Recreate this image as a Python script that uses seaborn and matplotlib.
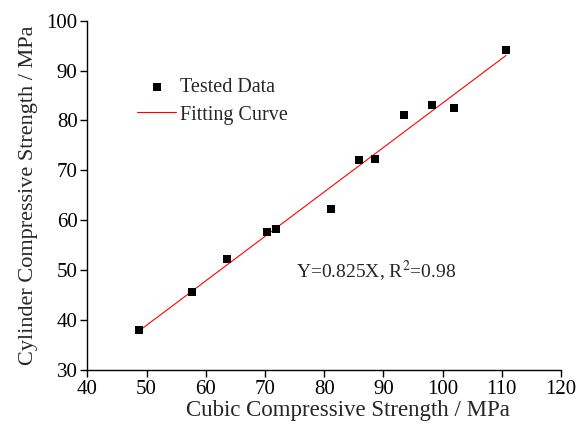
import matplotlib
matplotlib.use("Agg")
import matplotlib.pyplot as plt
import pandas as pd
import seaborn as sns

# Cubic vs cylinder compressive strength (MPa)
cubic = [48.7, 57.6, 63.6, 70.3, 71.9, 81.2, 85.9, 88.6, 93.4, 98.2, 102.0, 110.7]
cylinder = [38.0, 45.6, 52.2, 57.7, 58.3, 62.3, 72.0, 72.2, 81.0, 83.0, 82.4, 94.1]
x_ticks = [40, 50, 60, 70, 80, 90, 100, 110, 120]
y_ticks = [30, 40, 50, 60, 70, 80, 90, 100]
fit_label = "Y=0.825X, R$^2$=0.98"


def main():
    sns.set_style("ticks")
    plt.rcParams["font.family"] = ["Liberation Serif", "DejaVu Serif"]
    plt.rcParams["mathtext.fontset"] = "stix"

    df = pd.DataFrame({"cubic": cubic, "cylinder": cylinder})

    fig = plt.figure(figsize=(5.76, 4.34), dpi=100)
    ax = fig.add_axes([0.1516, 0.1475, 0.8224, 0.805])

    sns.scatterplot(data=df, x="cubic", y="cylinder", marker="s", s=36, color="black",
                    edgecolor="black", linewidth=0, ax=ax, label="Tested Data", zorder=3)
    sns.regplot(data=df, x="cubic", y="cylinder", scatter=False, ci=None, ax=ax,
                line_kws={"color": "red", "linewidth": 0.8}, label="Fitting Curve")

    ax.set_xlim(40, 120)
    ax.set_ylim(30, 100)
    ax.set_xticks(x_ticks)
    ax.set_yticks(y_ticks)
    ax.tick_params(direction="out", length=5, width=1, labelsize=15, colors="black", pad=2)
    for side in ["left", "bottom"]:
        ax.spines[side].set_color("black")
        ax.spines[side].set_linewidth(1)
    sns.despine(ax=ax)

    ax.set_xlabel("Cubic Compressive Strength / MPa", fontsize=16.5, labelpad=1, x=0.55)
    ax.set_ylabel("Cylinder Compressive Strength / MPa", fontsize=16, labelpad=6)

    ax.text(88.8, 50, fit_label, ha="center", va="center", fontsize=14)

    ax.legend(loc="upper left", bbox_to_anchor=(0.105, 0.835), frameon=False, fontsize=14.5,
              handlelength=1.95, handletextpad=0.2, labelspacing=0.4, borderaxespad=0,
              borderpad=0)

    fig.savefig("out.png", dpi=100)


if __name__ == "__main__":
    main()
